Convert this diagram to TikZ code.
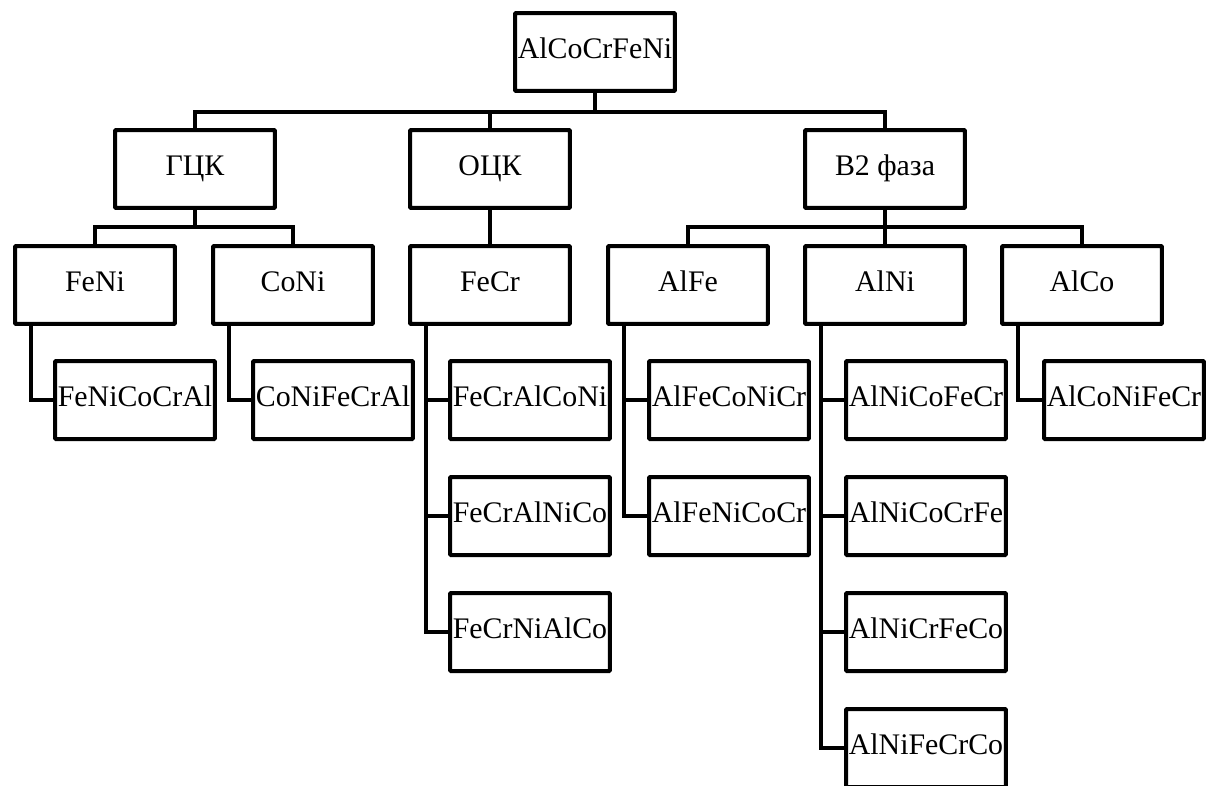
\documentclass[tikz,border=0pt]{standalone}
\usepackage{fontspec}
\setmainfont{Liberation Serif}
\usetikzlibrary{positioning}

\begin{document}
\begin{tikzpicture}[x=0.02cm,y=-0.02cm]
    \tikzset{
      phase/.style={
        rectangle,
        draw,
        line width=0.08cm,
        rounded corners=0.5pt,
        minimum width=3.2cm,
        minimum height=1.56cm,
        inner sep=0mm,
        outer sep=0mm,
        font=\fontsize{17}{20}\selectfont,
        text height=0.8em,
        text depth=0.05em
      },
      link/.style={
        line width=0.07cm
      }
    }
    \clip (0,0) rectangle (1207,785);

    %Alloy node
    \node[phase] at (595,52) (alloy) {AlCoCrFeNi};

    %Lattice nodes
    \node[phase] at (195,169) (gck) {ГЦК};
    \node[phase] at (490,169) (ock) {ОЦК};
    \node[phase] at (885,169) (b2) {В2 фаза};

    %Pair nodes
    \node[phase] at (95,285) (feni) {FeNi};
    \node[phase] at (293,285) (coni) {CoNi};
    \node[phase] at (490,285) (fecr) {FeCr};
    \node[phase] at (688,285) (alfe) {AlFe};
    \node[phase] at (885,285) (alni) {AlNi};
    \node[phase] at (1082,285) (alco) {AlCo};

    %FeNi and CoNi sequences
    \node[phase] at (135,400) (fenicocral) {FeNiCoCrAl};
    \node[phase] at (333,400) (conifecral) {CoNiFeCrAl};

    %FeCr sequences
    \node[phase] at (530,400) (fecralconi) {FeCrAlCoNi};
    \node[phase] at (530,516) (fecralnico) {FeCrAlNiCo};
    \node[phase] at (530,632) (fecrnialco) {FeCrNiAlCo};

    %AlFe sequences
    \node[phase] at (729,400) (alfeconicr) {AlFeCoNiCr};
    \node[phase] at (729,516) (alfenicocr) {AlFeNiCoCr};

    %AlNi sequences
    \node[phase] at (926,400) (alnicofecr) {AlNiCoFeCr};
    \node[phase] at (926,516) (alnicocrfe) {AlNiCoCrFe};
    \node[phase] at (926,632) (alnicrfeco) {AlNiCrFeCo};
    \node[phase] at (926,748) (alnifecrco) {AlNiFeCrCo};

    %AlCo sequence
    \node[phase] at (1124,400) (alconifecr) {AlCoNiFeCr};

    %Alloy to lattices
    \draw[link] (alloy.south) -- ++(0,21) -| (gck.north);
    \draw[link] (alloy.south) -- ++(0,21) -| (ock.north);
    \draw[link] (alloy.south) -- ++(0,21) -| (b2.north);

    %Lattices to pairs
    \draw[link] (gck.south) -- ++(0,19) -| (feni.north);
    \draw[link] (gck.south) -- ++(0,19) -| (coni.north);
    \draw[link] (ock.south) -- (fecr.north);
    \draw[link] (b2.south) -- ++(0,19) -| (alfe.north);
    \draw[link] (b2.south) -- ++(0,19) -| (alni.north);
    \draw[link] (b2.south) -- ++(0,19) -| (alco.north);

    %Pairs to sequences
    \draw[link] ([xshift=0.32cm]feni.south west) |- (fenicocral.west);
    \draw[link] ([xshift=0.32cm]coni.south west) |- (conifecral.west);
    \draw[link] ([xshift=0.32cm]fecr.south west) |- (fecralconi.west);
    \draw[link] ([xshift=0.32cm]fecr.south west) |- (fecralnico.west);
    \draw[link] ([xshift=0.32cm]fecr.south west) |- (fecrnialco.west);
    \draw[link] ([xshift=0.32cm]alfe.south west) |- (alfeconicr.west);
    \draw[link] ([xshift=0.32cm]alfe.south west) |- (alfenicocr.west);
    \draw[link] ([xshift=0.32cm]alni.south west) |- (alnicofecr.west);
    \draw[link] ([xshift=0.32cm]alni.south west) |- (alnicocrfe.west);
    \draw[link] ([xshift=0.32cm]alni.south west) |- (alnicrfeco.west);
    \draw[link] ([xshift=0.32cm]alni.south west) |- (alnifecrco.west);
    \draw[link] ([xshift=0.32cm]alco.south west) |- (alconifecr.west);
  \end{tikzpicture}
\end{document}
